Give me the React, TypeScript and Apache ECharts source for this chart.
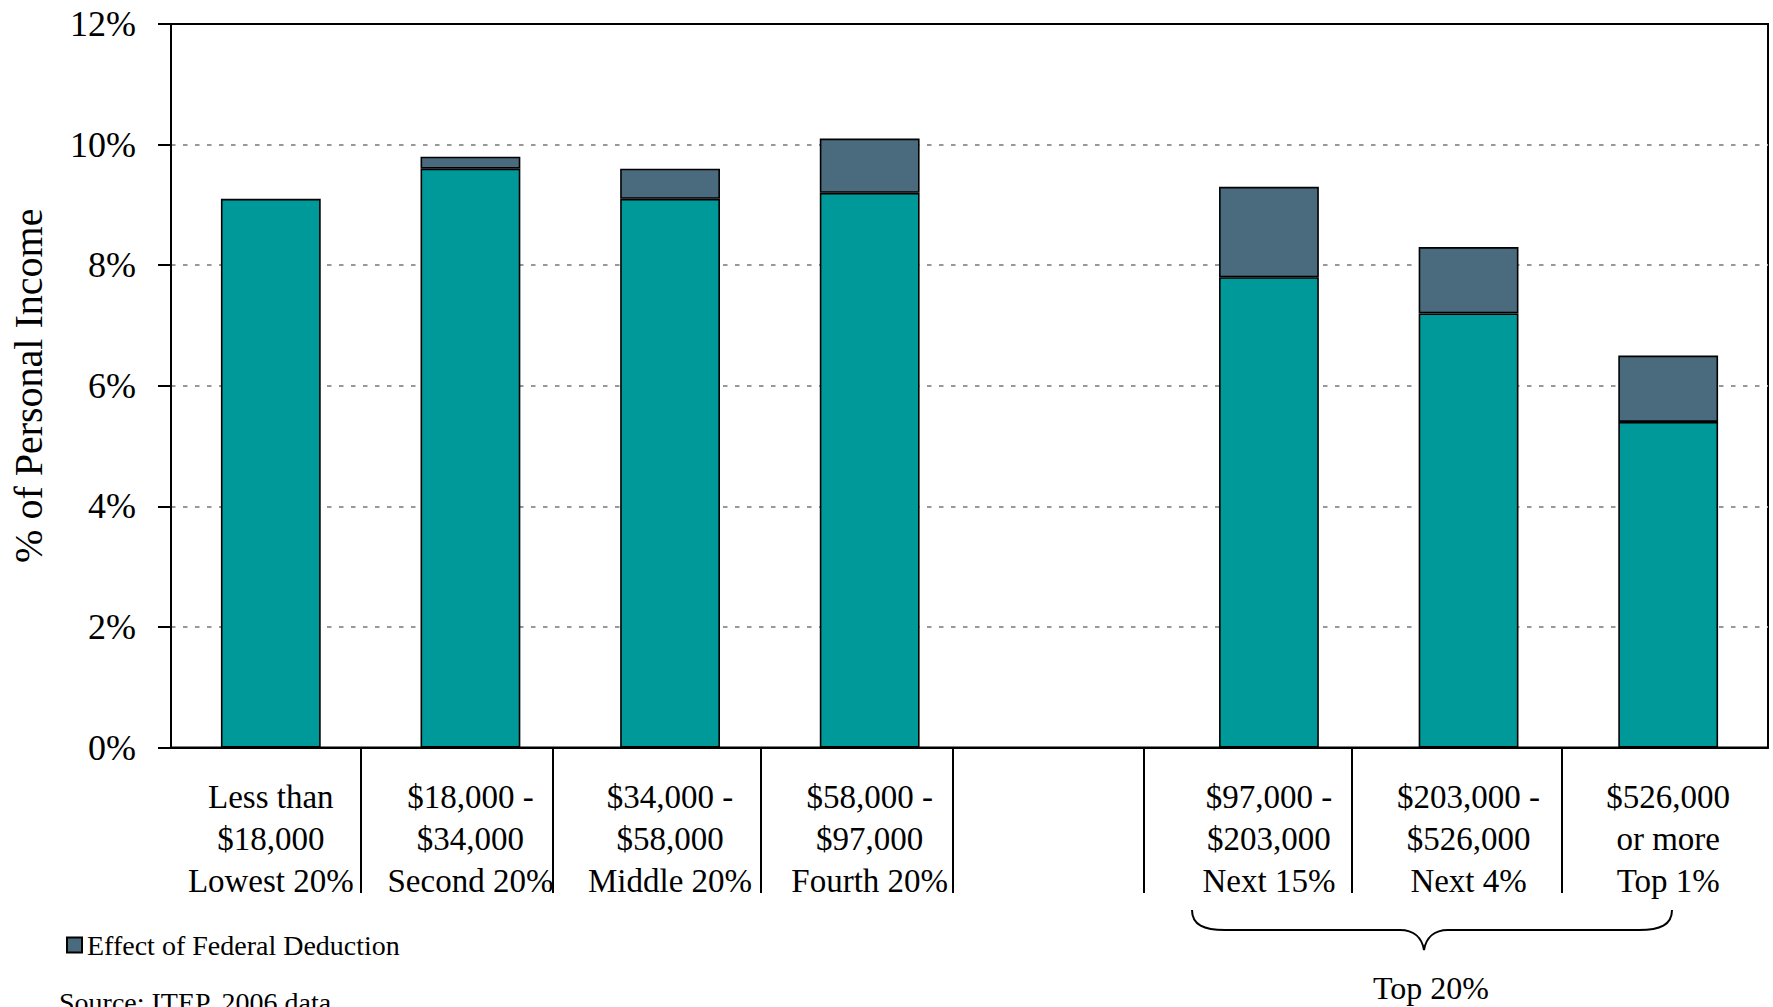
import React, { useEffect, useRef } from "react";
import * as echarts from "echarts";

const categories = [
  "Less than\n$18,000\nLowest 20%",
  "$18,000 -\n$34,000\nSecond 20%",
  "$34,000 -\n$58,000\nMiddle 20%",
  "$58,000 -\n$97,000\nFourth 20%",
  "",
  "$97,000 -\n$203,000\nNext 15%",
  "$203,000 -\n$526,000\nNext 4%",
  "$526,000\nor more\nTop 1%",
];
const baseValues = [9.1, 9.6, 9.1, 9.2, null, 7.8, 7.2, 5.4];
const deductionValues = [null, 0.2, 0.5, 0.9, null, 1.5, 1.1, 1.1];
const yTicks = { min: 0, max: 12, interval: 2 };
const legendLabel = "Effect of Federal Deduction";
const yTitle = "% of Personal Income";
const groupLabel = "Top 20%";
const sourceText = "Source: ITEP, 2006 data";
const separatorX = [361, 553, 761, 953, 1144, 1352, 1562];

const FONT = "'Liberation Serif', 'Times New Roman', serif";
const BRACE_D =
  "M0,0 C0,15 12,20 33,20 L208,20 C222,20 230,28 232,40 C234,28 242,20 256,20 L447,20 C468,20 480,15 480,0";

let braceRegistered = false;
function ensureBrace() {
  if (braceRegistered) return;
  echarts.graphic.registerShape("brace", echarts.graphic.extendPath(BRACE_D, {}));
  braceRegistered = true;
}

export default function App() {
  const ref = useRef<HTMLDivElement>(null);
  useEffect(() => {
    if (!ref.current) return;
    ensureBrace();
    const chart = echarts.init(ref.current, null, { renderer: "svg" });
    const gridTop = 24;
    const gridBottomY = 747.5;
    const option: any = {
      animation: false,
      backgroundColor: "#fff",
      textStyle: { fontFamily: FONT, color: "#000" },
      grid: {
        left: 171,
        right: 5,
        top: gridTop,
        bottom: 1007 - gridBottomY,
        show: true,
        borderColor: "#000",
        borderWidth: 2,
        backgroundColor: "transparent",
        containLabel: false,
        outerBoundsMode: "none",
      },
      legend: {
        data: [legendLabel],
        left: 61,
        top: 926,
        icon: "rect",
        itemWidth: 15,
        itemHeight: 15,
        selectedMode: false,
        textStyle: { fontFamily: FONT, fontSize: 28, color: "#000" },
      },
      xAxis: {
        type: "category",
        data: categories,
        axisLine: { show: true, lineStyle: { color: "#000", width: 2 } },
        axisTick: { show: false },
        axisLabel: {
          interval: 0,
          fontFamily: FONT,
          fontSize: 33,
          lineHeight: 42,
          margin: 28,
          color: "#000",
        },
      },
      yAxis: {
        type: "value",
        min: yTicks.min,
        max: yTicks.max,
        interval: yTicks.interval,
        name: yTitle,
        nameLocation: "middle",
        nameGap: 123,
        nameTextStyle: { fontFamily: FONT, fontSize: 40, color: "#000" },
        axisLine: { show: true, lineStyle: { color: "#000", width: 2 } },
        axisTick: { show: true, length: 13, lineStyle: { color: "#000", width: 2 } },
        axisLabel: {
          formatter: "{value}%",
          fontFamily: FONT,
          fontSize: 36,
          margin: 35,
          color: "#000",
        },
        splitLine: {
          show: true,
          showMinLine: false,
          showMaxLine: false,
          lineStyle: { color: "#999999", width: 2, type: [4.5, 7.5] },
        },
      },
      series: [
        {
          name: "Base",
          type: "bar",
          stack: "total",
          data: baseValues,
          barWidth: "50%",
          itemStyle: { color: "#009999", borderColor: "#000", borderWidth: 1.6 },
        },
        {
          name: legendLabel,
          type: "bar",
          stack: "total",
          data: deductionValues,
          barWidth: "50%",
          itemStyle: { color: "#4a6a7d", borderColor: "#000", borderWidth: 1.6 },
        },
      ],
      graphic: [
        ...separatorX.map((x) => ({
          type: "line",
          shape: { x1: x, y1: gridBottomY, x2: x, y2: 893 },
          style: { stroke: "#000", lineWidth: 2 },
          silent: true,
        })),
        {
          type: "brace",
          x: 1192,
          y: 910,
          style: { stroke: "#000", fill: "none", lineWidth: 2 },
          silent: true,
        },
        {
          type: "text",
          x: 1431,
          y: 988,
          style: {
            text: groupLabel,
            fontFamily: FONT,
            fontSize: 32,
            fill: "#000",
            textAlign: "center",
            textVerticalAlign: "middle",
          },
        },
        {
          type: "text",
          x: 59,
          y: 988,
          style: {
            text: sourceText,
            fontFamily: FONT,
            fontSize: 28,
            fill: "#000",
            textAlign: "left",
            textVerticalAlign: "top",
          },
        },
      ],
    };
    chart.setOption(option);
    return () => chart.dispose();
  }, []);
  return (
    <div
      ref={ref}
      style={{ position: "absolute", left: 0, top: 0, width: 1773, height: 1007 }}
    />
  );
}
